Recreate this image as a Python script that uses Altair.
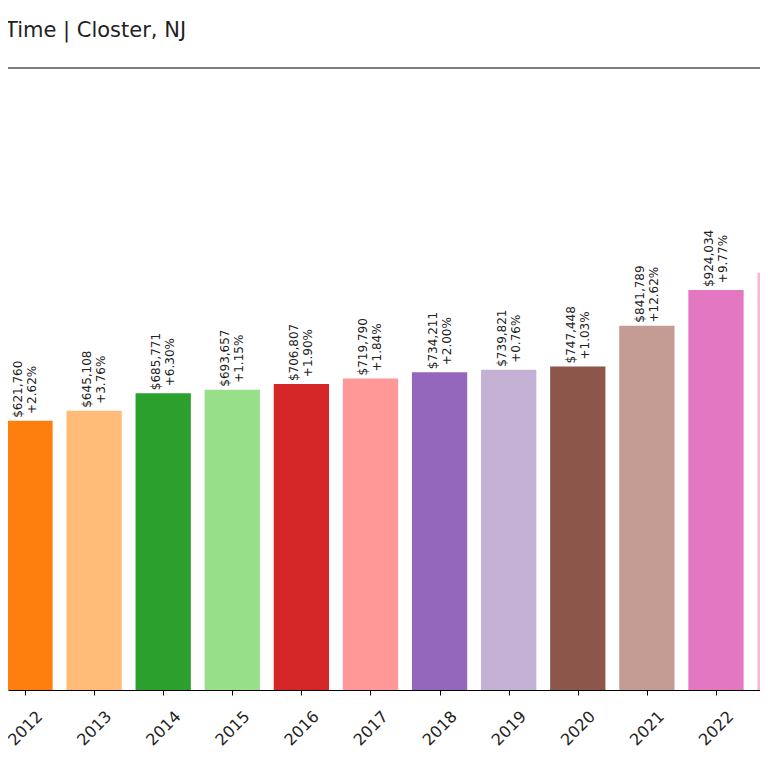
import altair as alt
import pandas as pd

years = [2012, 2013, 2014, 2015, 2016, 2017, 2018, 2019, 2020, 2021, 2022, 2023]
values = [621760, 645108, 685771, 693657, 706807, 719790, 734211, 739821, 747448, 841789, 924034, 964000]
pct_labels = ["+2.62%", "+3.76%", "+6.30%", "+1.15%", "+1.90%", "+1.84%", "+2.00%",
              "+0.76%", "+1.03%", "+12.62%", "+9.77%", "+4.33%"]
colors = ["#ff7f0e", "#ffbb78", "#2ca02c", "#98df8a", "#d62728", "#ff9896",
          "#9467bd", "#c5b0d5", "#8c564b", "#c49c94", "#e377c2", "#f7b6d2"]

df = pd.DataFrame({"year": years, "value": values, "pct": pct_labels})
df["label"] = ["${:,}".format(v) for v in values]
df["x0"] = df["year"] - 0.4
df["x1"] = df["year"] + 0.4

W, H = 752, 622
xscale = alt.Scale(domain=[2011.754, 2022.637], nice=False, zero=False)
yscale = alt.Scale(domain=[0, 1437000], nice=False, zero=True)
xaxis = alt.Axis(values=years, format="d", title=None, grid=False,
                 labelAngle=315, labelAlign="center", labelBaseline="middle",
                 labelPadding=33, tickSize=5, tickColor="black", domainColor="black",
                 labelColor="#222", labelFont="DejaVu Sans", labelFontSize=16,
                 labelOverlap=False, labelFlush=False, labelBound=False)

base = alt.Chart(df)
bars = base.mark_bar(clip=True).encode(
    x=alt.X("x0:Q", scale=xscale, axis=xaxis),
    x2="x1",
    y=alt.Y("value:Q", scale=yscale, axis=None),
    y2=alt.datum(0),
    color=alt.Color("year:N", scale=alt.Scale(domain=years, range=colors), legend=None),
)
vals = base.mark_text(angle=270, align="left", baseline="middle", dx=3, dy=-7,
                      fontSize=12, font="DejaVu Sans", color="#222", clip=True).encode(
    x=alt.X("year:Q", scale=xscale, axis=xaxis),
    y=alt.Y("value:Q", scale=yscale, axis=None),
    text="label:N",
)
pcts = base.mark_text(angle=270, align="center", baseline="middle", dx=31, dy=7,
                      fontSize=12, font="DejaVu Sans", color="#222", clip=True).encode(
    x=alt.X("year:Q", scale=xscale, axis=xaxis),
    y=alt.Y("value:Q", scale=yscale, axis=None),
    text="pct:N",
)
spine = alt.Chart(pd.DataFrame({"k": [0]})).mark_rule(color="black", strokeWidth=1.2).encode(
    y=alt.value(0), x=alt.value(0), x2=alt.value(W)
)

chart = alt.layer(bars, vals, pcts, spine).properties(
    width=W, height=H,
    title=alt.TitleParams("Time | Closter, NJ", anchor="start", offset=9,
                          baseline="alphabetic", fontSize=21, font="DejaVu Sans",
                          fontWeight="normal", color="#222"),
    padding={"left": 0, "right": 0, "top": 60, "bottom": 70},
    autosize=alt.AutoSizeParams(type="none"),
).configure_view(stroke=None)

chart.save("out.html", embed_options={"renderer": "svg", "actions": False})
